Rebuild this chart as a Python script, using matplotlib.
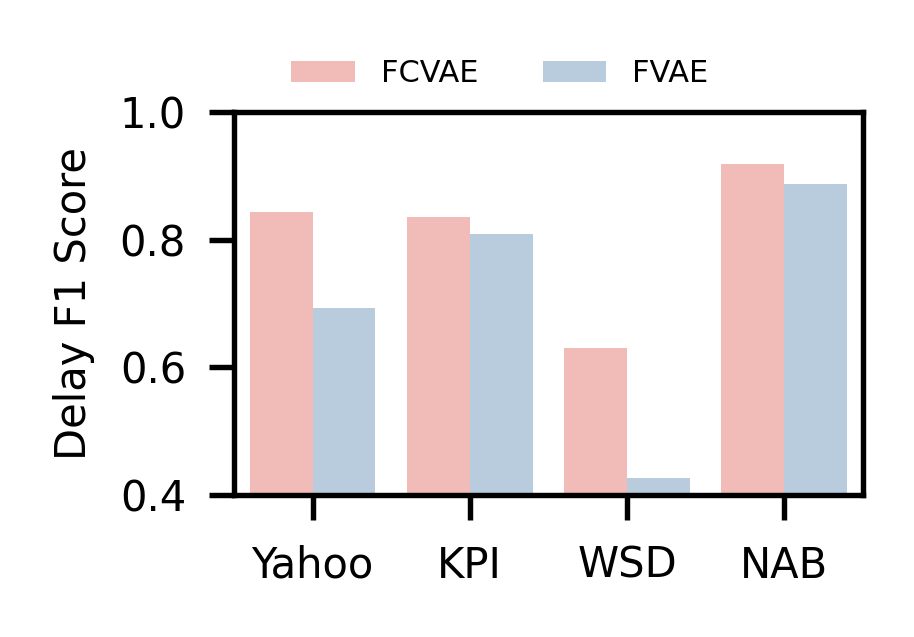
import matplotlib
matplotlib.use("Agg")
from matplotlib import pyplot as plt
import numpy as np

datasets = ["Yahoo", "KPI", "WSD", "NAB"]
fcvae = [0.843, 0.835, 0.630, 0.918]
fvae = [0.693, 0.809, 0.426, 0.887]

pink = "#F1BBB8"
blue = "#B9CCDD"

plt.rcParams["font.family"] = "DejaVu Sans"

fig = plt.figure(figsize=(914 / 300, 637 / 300), dpi=300)
ax = fig.add_axes([0.256, 0.223, 0.688, 0.601])

x = np.arange(len(datasets))
w = 0.4
ax.bar(x - w / 2, fcvae, width=w, color=pink, label="FCVAE")
ax.bar(x + w / 2, fvae, width=w, color=blue, label="FVAE")

ax.set_xlim(-0.5, 3.5)
ax.set_ylim(0.4, 1.0)
ax.set_yticks([0.4, 0.6, 0.8, 1.0])
ax.set_xticks(x)
ax.set_xticklabels(datasets)
ax.set_ylabel("Delay F1 Score", fontsize=10, labelpad=6)

for s in ax.spines.values():
    s.set_linewidth(1.3)
ax.tick_params(axis="both", labelsize=10, length=6, width=1.3, pad=6)
ax.tick_params(axis="y", pad=5.5)

fig.legend(loc="center", bbox_to_anchor=(500 / 914, 0.884), ncol=2,
           frameon=False, fontsize=7.3, handlelength=2.1,
           handletextpad=0.85, columnspacing=2.1)

fig.savefig("out.png", dpi=300)
